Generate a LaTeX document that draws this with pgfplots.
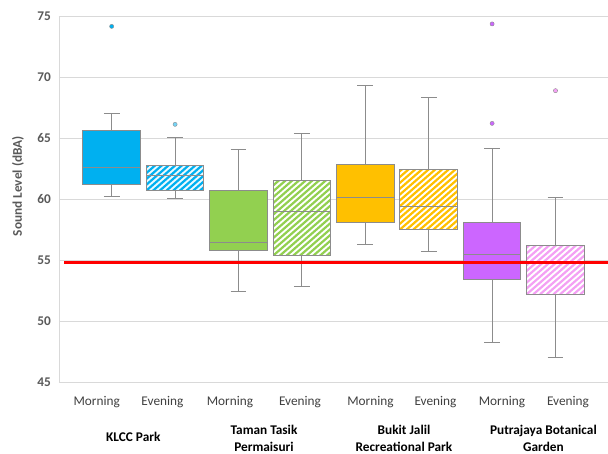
\documentclass[border=0pt]{standalone}
\usepackage{fontspec}
\setmainfont{Carlito}
\usepackage{pgfplots}
\pgfplotsset{compat=1.18}

\definecolor{klcc}{HTML}{00B0F0}
\definecolor{taman}{HTML}{92D050}
\definecolor{bukit}{HTML}{FFC000}
\definecolor{putra}{HTML}{CC66FF}
\definecolor{putraeve}{HTML}{F4A0F4}
\definecolor{boxgray}{HTML}{8C8C8C}
\definecolor{gridgray}{HTML}{D9D9D9}
\definecolor{tickgray}{HTML}{595959}
\definecolor{labeldark}{HTML}{404040}
\definecolor{limitred}{HTML}{FF0000}

% five-number summaries: position, lower whisker, Q1, median, Q3, upper whisker
\newcommand{\klccM}{{1}{60.25}{61.23}{62.6}{65.6}{67.0}}
\newcommand{\klccE}{{2}{60.08}{60.68}{61.94}{62.76}{65.03}}
\newcommand{\tamanM}{{3}{52.43}{55.76}{56.42}{60.66}{64.07}}
\newcommand{\tamanE}{{4}{52.87}{55.35}{58.99}{61.53}{65.38}}
\newcommand{\bukitM}{{5}{56.28}{58.11}{60.11}{62.81}{69.29}}
\newcommand{\bukitE}{{6}{55.68}{57.49}{59.43}{62.4}{68.33}}
\newcommand{\putraM}{{7}{48.28}{53.42}{55.49}{58.11}{64.15}}
\newcommand{\putraE}{{8}{47.0}{52.19}{54.8}{56.2}{60.11}}

\pgfplotsset{
  whisk/.style={draw=boxgray, line width=0.9pt, mark=none, solid},
  solidbox/.style={draw=boxgray, line width=0.9pt, mark=none, fill=#1},
  outlier/.style={only marks, mark=*, mark size=2.1pt,
    mark options={draw=boxgray, line width=0.4pt, fill=#1}},
  frame/.style={
    at={(0pt,0pt)}, anchor=south west,
    scale only axis, width=549pt, height=366pt,
    xmin=0.169, xmax=8.828, ymin=45, ymax=75},
}

% whiskers, box and median
\newcommand{\drawbox}[7]{%
  \pgfmathsetmacro{\bl}{#1-0.455}\pgfmathsetmacro{\br}{#1+0.455}%
  \pgfmathsetmacro{\cl}{#1-0.125}\pgfmathsetmacro{\cr}{#1+0.125}%
  \addplot[whisk] coordinates {(#1,#2) (#1,#3)};
  \addplot[whisk] coordinates {(#1,#5) (#1,#6)};
  \addplot[whisk] coordinates {(\cl,#2) (\cr,#2)};
  \addplot[whisk] coordinates {(\cl,#6) (\cr,#6)};
  \addplot[#7] coordinates {(\bl,#3) (\br,#3) (\br,#5) (\bl,#5)} -- cycle;
  \addplot[whisk] coordinates {(\bl,#4) (\br,#4)};
  \edef\next{\noexpand\coordinate (sw#1) at (axis cs:\bl,#3);
    \noexpand\coordinate (ne#1) at (axis cs:\br,#5);}\next
}
% outline and median only, drawn over the hatching
\newcommand{\drawedge}[6]{%
  \pgfmathsetmacro{\bl}{#1-0.455}\pgfmathsetmacro{\br}{#1+0.455}%
  \addplot[whisk] coordinates {(\bl,#3) (\br,#3) (\br,#5) (\bl,#5)} -- cycle;
  \addplot[whisk] coordinates {(\bl,#4) (\br,#4)};
}

\begin{document}
\begin{tikzpicture}
\useasboundingbox (-59pt,-71pt) rectangle (549pt,382pt);
\begin{axis}[
  frame,
  ytick={45,50,...,75},
  xtick={0.763,1.801,2.866,3.970,5.082,6.107,7.156,8.197},
  xticklabels={Morning,Evening,Morning,Evening,Morning,Evening,Morning,Evening},
  major tick length=0pt,
  axis line style={draw=none},
  ymajorgrids, grid style={draw=gridgray, line width=0.9pt},
  clip marker paths=true,
  /pgf/number format/assume math mode=true,
  yticklabel style={font=\bfseries\fontsize{13.3}{16}\selectfont, text=tickgray, xshift=-4.6pt},
  xticklabel style={font=\fontsize{13.3}{16}\selectfont, text=labeldark, yshift=-10.6pt},
  ylabel={Sound Level (dBA)},
  every axis y label/.style={at={(rel axis cs:0,0.535)}, xshift=-41pt, rotate=90,
    anchor=center, font=\bfseries\fontsize{13.3}{16}\selectfont, text=tickgray},
]
\draw[gridgray, line width=0.9pt] (rel axis cs:0,0) -- (rel axis cs:0,1);

% KLCC Park
\expandafter\drawbox\klccM{solidbox=klcc}
\addplot[outlier=klcc] coordinates {(1,74.15) (1,75.15)};
\expandafter\drawbox\klccE{solidbox=klcc!8!white}
\addplot[outlier=klcc!55!white] coordinates {(2,66.12)};

% Taman Tasik Permaisuri
\expandafter\drawbox\tamanM{solidbox=taman}
\expandafter\drawbox\tamanE{solidbox=white}

% Bukit Jalil Recreational Park
\expandafter\drawbox\bukitM{solidbox=bukit}
\expandafter\drawbox\bukitE{solidbox=white}

% Putrajaya Botanical Garden
\expandafter\drawbox\putraM{solidbox=putra}
\addplot[outlier=putra] coordinates {(7,66.2) (7,74.35)};
\expandafter\drawbox\putraE{solidbox=white}
\addplot[outlier=putraeve] coordinates {(8,68.88)};

\coordinate (g1) at (axis cs:1.341,45);
\coordinate (g2) at (axis cs:3.402,45);
\coordinate (g3) at (axis cs:5.61,45);
\coordinate (g4) at (axis cs:7.81,45);
\end{axis}

% diagonal hatching of the evening boxes
\foreach \k/\c in {2/klcc,4/taman,6/bukit,8/putraeve} {
  \begin{scope}
    \clip (sw\k) rectangle (ne\k);
    \foreach \i in {-15,...,10}
      \draw[\c, line width=2.2pt] ([xshift=\i*6.7pt]sw\k) -- ++(110pt,96pt);
  \end{scope}
}

\begin{axis}[frame, hide axis]
\expandafter\drawedge\klccE
\expandafter\drawedge\tamanE
\expandafter\drawedge\bukitE
\expandafter\drawedge\putraE
% permissible limit
\addplot[limitred, line width=2.6pt, mark=none] coordinates {(0.25,54.8) (8.828,54.8)};
\end{axis}

% site names
\begin{scope}[every node/.style={anchor=base, font=\bfseries\fontsize{13.3}{16}\selectfont}]
\node at ([yshift=-59.7pt]g1) {KLCC Park};
\node at ([yshift=-52.3pt]g2) {Taman Tasik};
\node at ([yshift=-69pt]g2) {Permaisuri};
\node at ([yshift=-52.3pt]g3) {Bukit Jalil};
\node at ([yshift=-69pt]g3) {Recreational Park};
\node at ([yshift=-52.3pt]g4) {Putrajaya Botanical};
\node at ([yshift=-69pt]g4) {Garden};
\end{scope}
\end{tikzpicture}
\end{document}
